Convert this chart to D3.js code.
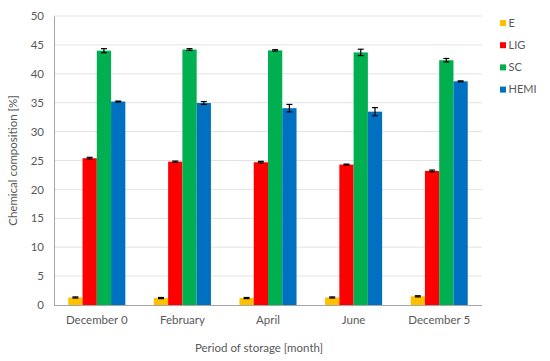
<!DOCTYPE html>
<html>
<head>
<meta charset="utf-8">
<style>
  body { margin: 0; background: #fff; }
  text { font-family: Lato, "Open Sans", sans-serif; fill: #595959; }
</style>
</head>
<body>
<div id="chart"></div>
<script src="https://cdn.jsdelivr.net/npm/d3@7/dist/d3.min.js"></script>
<script>
  const width = 550;
  const height = 361;
  const margin = {top: 16, right: 68, bottom: 56, left: 54};

  // data
  const periods = ["December 0", "February", "April", "June", "December 5"];
  const seriesNames = ["E", "LIG", "SC", "HEMI"];
  const colors = ["#FFC000", "#FF0000", "#00B050", "#0070C0"];
  const eVals    = [1.3, 1.2, 1.2, 1.3, 1.5];
  const ligVals  = [25.4, 24.8, 24.7, 24.3, 23.2];
  const scVals   = [44.0, 44.2, 44.05, 43.7, 42.35];
  const hemiVals = [35.2, 34.95, 34.05, 33.45, 38.7];
  const eErr    = [0.1, 0.1, 0.1, 0.1, 0.1];
  const ligErr  = [0.15, 0.1, 0.15, 0.08, 0.15];
  const scErr   = [0.35, 0.15, 0.12, 0.55, 0.3];
  const hemiErr = [0.08, 0.25, 0.65, 0.7, 0.08];
  const yTicks = [0, 5, 10, 15, 20, 25, 30, 35, 40, 45, 50];

  const values = [eVals, ligVals, scVals, hemiVals];
  const errors = [eErr, ligErr, scErr, hemiErr];

  const rows = [];
  periods.forEach((p, i) => {
    seriesNames.forEach((s, j) => {
      rows.push({period: p, series: s, value: values[j][i], err: errors[j][i], color: colors[j]});
    });
  });

  const svg = d3.select("#chart").append("svg")
      .attr("width", width)
      .attr("height", height);

  const x0 = d3.scaleBand()
      .domain(periods)
      .range([margin.left, width - margin.right])
      .paddingInner(1 / 3)
      .paddingOuter(1 / 6);

  const x1 = d3.scaleBand()
      .domain(seriesNames)
      .range([0, x0.bandwidth()]);

  const y = d3.scaleLinear()
      .domain([0, 50])
      .range([height - margin.bottom, margin.top]);

  // gridlines
  svg.append("g")
    .selectAll("line")
    .data(yTicks.slice(1))
    .join("line")
      .attr("x1", margin.left)
      .attr("x2", width - margin.right)
      .attr("y1", d => y(d))
      .attr("y2", d => y(d))
      .attr("stroke", "#e3e3e3")
      .attr("stroke-width", 1);

  // bars
  svg.append("g")
    .selectAll("rect")
    .data(rows)
    .join("rect")
      .attr("x", d => x0(d.period) + x1(d.series))
      .attr("y", d => y(d.value))
      .attr("width", x1.bandwidth())
      .attr("height", d => y(0) - y(d.value))
      .attr("fill", d => d.color);

  // error bars
  const eb = svg.append("g").attr("stroke", "#000").attr("stroke-width", 1.2);
  rows.forEach(d => {
    const cx = x0(d.period) + x1(d.series) + x1.bandwidth() / 2;
    const top = y(d.value + d.err), bot = y(d.value - d.err);
    eb.append("line").attr("x1", cx).attr("x2", cx).attr("y1", top).attr("y2", bot);
    eb.append("line").attr("x1", cx - 3).attr("x2", cx + 3).attr("y1", top).attr("y2", top);
    eb.append("line").attr("x1", cx - 3).attr("x2", cx + 3).attr("y1", bot).attr("y2", bot);
  });

  // y axis
  const yAxis = svg.append("g")
      .attr("transform", `translate(${margin.left},0)`)
      .call(d3.axisLeft(y).tickValues(yTicks).tickSize(0).tickPadding(10));
  yAxis.select(".domain").attr("stroke", "#a6a6a6");
  yAxis.selectAll("text").style("font-size", "11.5px").attr("fill", "#666");

  // x axis
  const xAxis = svg.append("g")
      .attr("transform", `translate(0,${y(0)})`)
      .call(d3.axisBottom(x0).tickSize(0).tickPadding(11));
  xAxis.select(".domain").attr("stroke", "#a6a6a6").attr("d", `M${margin.left},0.5H${width - margin.right}`);
  xAxis.selectAll("text").style("font-size", "11.5px").attr("fill", "#595959");

  // axis titles
  svg.append("text")
      .attr("transform", `translate(17,${(y(0) + y(50)) / 2}) rotate(-90)`)
      .attr("text-anchor", "middle")
      .style("font-size", "11.5px")
      .text("Chemical composition [%]");

  svg.append("text")
      .attr("x", 259)
      .attr("y", 352)
      .attr("text-anchor", "middle")
      .style("font-size", "11.5px")
      .text("Period of storage [month]");

  // legend
  const legend = svg.append("g").attr("transform", "translate(500,20)");
  seriesNames.forEach((s, i) => {
    const g = legend.append("g").attr("transform", `translate(0,${i * 22.2})`);
    g.append("rect").attr("width", 6).attr("height", 6).attr("fill", colors[i]);
    g.append("text").attr("x", 8.5).attr("y", 6.5).style("font-size", "11px").text(s);
  });
</script>
</body>
</html>
